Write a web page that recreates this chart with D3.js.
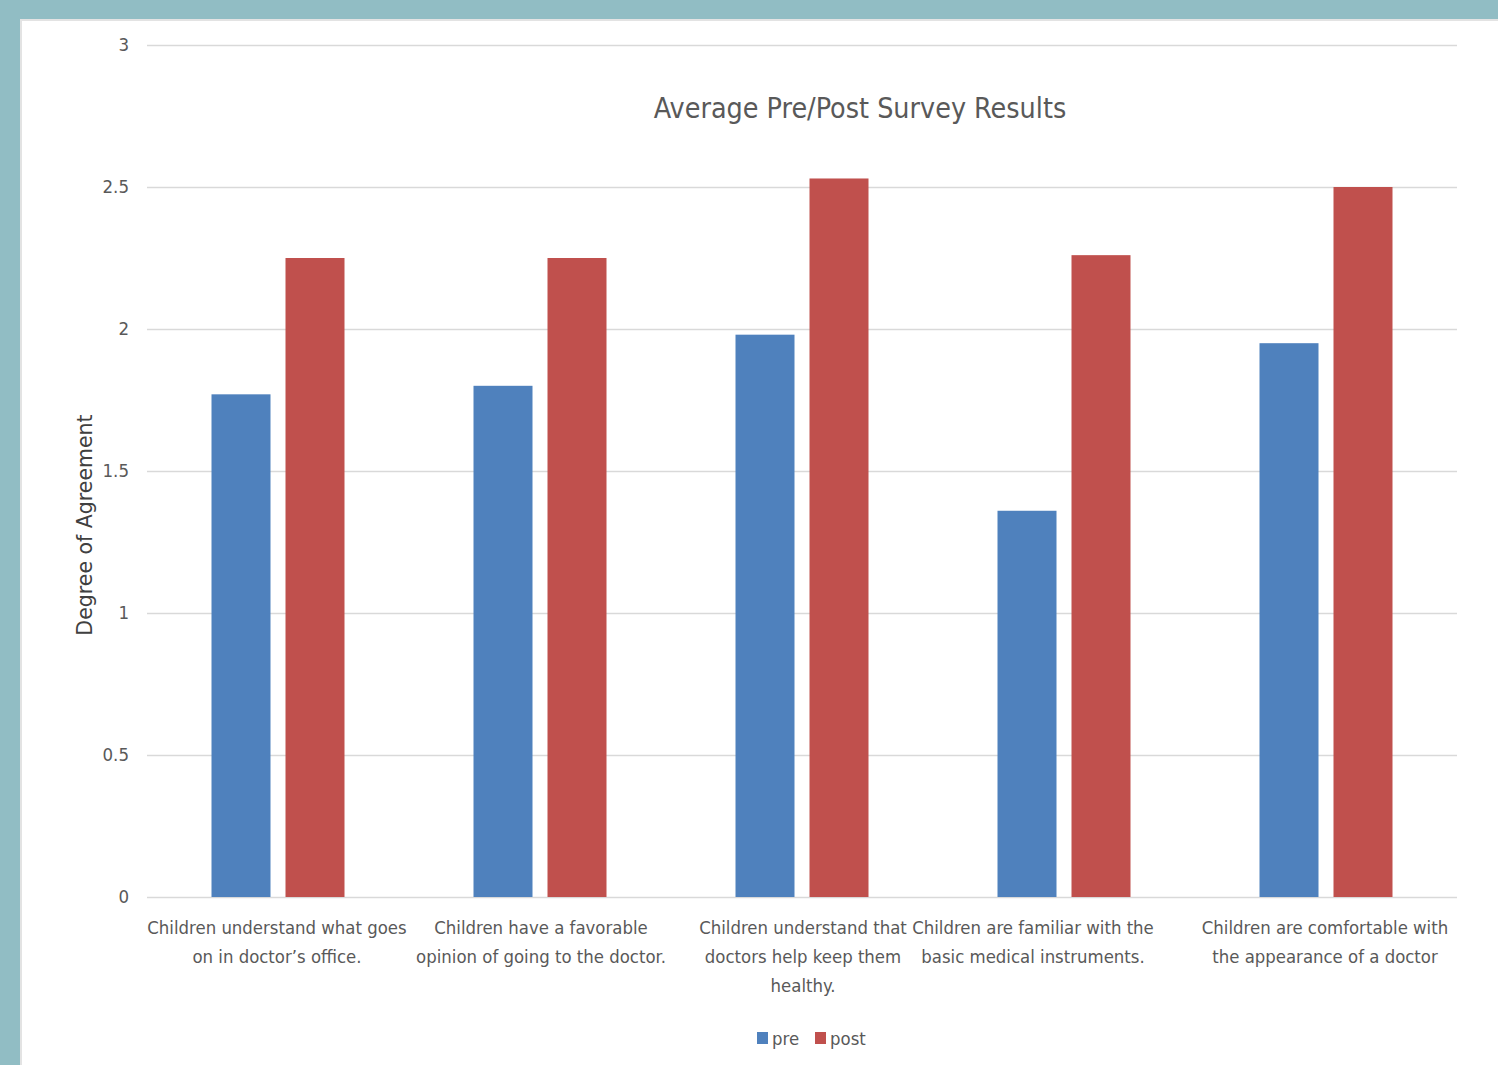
<!DOCTYPE html>
<html>
<head>
<meta charset="utf-8">
<script src="https://cdn.jsdelivr.net/npm/d3@7"></script>
<style>
  body { margin: 0; background: #91bdc4; }
  #chart { position: absolute; left: 0; top: 0; }
</style>
</head>
<body>
<div id="chart"></div>
<script>
// data
var categories = [
    ["Children understand what goes", "on in  doctor\u2019s office."],
    ["Children have a favorable", "opinion of going to the doctor."],
    ["Children understand that", "doctors help keep them", "healthy."],
    ["Children are familiar with the", "basic medical instruments."],
    ["Children are comfortable with", "the appearance of a doctor"]
];
var preValues = [1.77, 1.8, 1.98, 1.36, 1.95];
var postValues = [2.25, 2.25, 2.53, 2.26, 2.5];
var seriesNames = ["pre", "post"];
var seriesColors = ["#4f81bd", "#c0504d"];
var yTicks = [0, 0.5, 1, 1.5, 2, 2.5, 3];

var W = 1498, H = 1065;
var font = "'Liberation Sans Narrow', 'DejaVu Sans Condensed', sans-serif";

var svg = d3.select("#chart")
    .append("svg")
    .attr("width", W)
    .attr("height", H);

// white card on teal background
svg.append("rect")
    .attr("x", 20).attr("y", 19)
    .attr("width", W - 20).attr("height", H - 19)
    .attr("fill", "#e3e3e3");
svg.append("rect")
    .attr("x", 22).attr("y", 21)
    .attr("width", W - 22).attr("height", H - 21)
    .attr("fill", "#ffffff");

var plotL = 147, plotR = 1457, plotT = 45, plotB = 897;

var x = d3.scaleBand()
    .domain(d3.range(categories.length))
    .range([plotL, plotR]);

var y = d3.scaleLinear()
    .domain([0, 3])
    .range([plotB, plotT]);

// gridlines
svg.append("g")
    .selectAll("line")
    .data(yTicks)
    .enter()
    .append("line")
    .attr("x1", plotL)
    .attr("x2", plotR)
    .attr("y1", d => y(d) + 0.5)
    .attr("y2", d => y(d) + 0.5)
    .style("stroke", "#d9d9d9")
    .style("stroke-width", 1.5);

// y tick labels
svg.append("g")
    .selectAll("text")
    .data(yTicks)
    .enter()
    .append("text")
    .attr("x", 129)
    .attr("y", d => y(d))
    .attr("dy", "0.35em")
    .attr("text-anchor", "end")
    .style("font-family", font)
    .style("font-size", "18.5px")
    .style("fill", "#595959")
    .text(d => d);

// bars
var barW = 59, gap = 15;
var series = [preValues, postValues];
series.forEach(function(vals, si) {
    svg.append("g")
        .selectAll("rect")
        .data(vals)
        .enter()
        .append("rect")
        .attr("x", function(d, i) {
            var c = x(i) + x.bandwidth() / 2;
            return si == 0 ? c - gap / 2 - barW : c + gap / 2;
        })
        .attr("y", d => y(d))
        .attr("width", barW)
        .attr("height", d => plotB - y(d))
        .style("fill", seriesColors[si]);
});

// category labels (excel nudges the 4th one left)
var labelShift = [0, 2, 2, -30, 0];
var lab = svg.append("g")
    .selectAll("text")
    .data(categories)
    .enter()
    .append("text")
    .attr("text-anchor", "middle")
    .style("font-family", font)
    .style("font-size", "18.4px")
    .style("fill", "#595959");
lab.selectAll("tspan")
    .data((d, i) => d.map(t => ({ t: t, i: i })))
    .enter()
    .append("tspan")
    .attr("x", d => x(d.i) + x.bandwidth() / 2 - 1 + labelShift[d.i])
    .attr("y", (d, j) => 934 + j * 29)
    .text(d => d.t);

// title
svg.append("text")
    .attr("x", 860)
    .attr("y", 118)
    .attr("text-anchor", "middle")
    .style("font-family", font)
    .style("font-size", "28.4px")
    .style("fill", "#595959")
    .text("Average Pre/Post Survey Results");

// y axis title
svg.append("text")
    .attr("transform", "translate(92,525) rotate(-90)")
    .attr("text-anchor", "middle")
    .style("font-family", "'DejaVu Sans', sans-serif")
    .style("font-size", "20.5px")
    .style("fill", "#404040")
    .text("Degree of Agreement");

// legend
var legX = [757, 815];
seriesNames.forEach(function(n, i) {
    svg.append("rect")
        .attr("x", legX[i])
        .attr("y", 1032)
        .attr("width", 11)
        .attr("height", 12)
        .style("fill", seriesColors[i]);
    svg.append("text")
        .attr("x", legX[i] + 15)
        .attr("y", 1045)
        .style("font-family", font)
        .style("font-size", "18.4px")
        .style("fill", "#595959")
        .text(n);
});
</script>
</body>
</html>
